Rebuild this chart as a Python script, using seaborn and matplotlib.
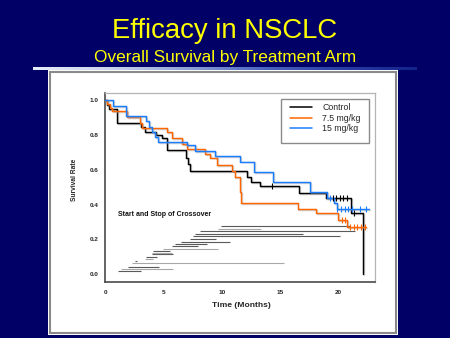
import numpy as np
import pandas as pd
import matplotlib
matplotlib.use("Agg")
import matplotlib.pyplot as plt
import matplotlib.patheffects as pe
from matplotlib.patches import Rectangle
from matplotlib.colors import LinearSegmentedColormap
import seaborn as sns

# Kaplan-Meier step curves (months, survival fraction)
control_t = [0, 0.15, 0.35, 1.0, 3.05, 3.4, 4.4, 4.85, 5.35, 6.95, 7.1, 7.25, 12.15, 12.5, 13.3, 16.65, 18.9, 21.05, 22.1]
control_s = [1.0, 0.97, 0.95, 0.87, 0.845, 0.815, 0.80, 0.78, 0.715, 0.67, 0.635, 0.59, 0.56, 0.53, 0.505, 0.465, 0.435, 0.35, 0.0]

dose75_t = [0, 0.15, 0.4, 0.6, 1.85, 3.0, 3.2, 5.28, 5.75, 6.57, 7.0, 8.57, 9.0, 9.57, 10.86, 11.1, 11.55, 11.65, 16.5, 18.1, 20.0, 20.7, 22.4]
dose75_s = [1.0, 0.975, 0.955, 0.935, 0.905, 0.87, 0.84, 0.815, 0.78, 0.75, 0.72, 0.69, 0.67, 0.625, 0.59, 0.56, 0.47, 0.41, 0.375, 0.35, 0.31, 0.27, 0.27]

dose15_t = [0, 0.7, 1.8, 3.55, 3.8, 4.0, 4.28, 4.57, 7.0, 7.7, 9.45, 11.55, 12.8, 14.4, 17.6, 19.0, 19.6, 19.9, 22.6]
dose15_s = [1.0, 0.965, 0.91, 0.88, 0.845, 0.815, 0.79, 0.76, 0.74, 0.71, 0.68, 0.647, 0.588, 0.53, 0.47, 0.435, 0.41, 0.377, 0.377]

# Censored observations
control_cens_t = [14.3, 19.5, 19.8, 20.1, 20.4, 20.7, 21.3]
control_cens_s = [0.505, 0.435, 0.435, 0.435, 0.435, 0.435, 0.35]
dose75_cens_t = [20.3, 20.55, 21.0, 21.3, 21.6, 21.9, 22.3]
dose75_cens_s = [0.31, 0.31, 0.27, 0.27, 0.27, 0.27, 0.27]
dose15_cens_t = [19.3, 19.9, 20.2, 20.55, 20.85, 21.2, 21.85, 22.4]
dose15_cens_s = [0.435, 0.377, 0.377, 0.377, 0.377, 0.377, 0.377, 0.377]

# Crossover intervals: start month, stop month, row height, shade
cross_start = [1.1, 1.4, 2.0, 2.3, 2.6, 3.4, 3.55, 4.0, 4.0, 4.15, 5.0, 5.7, 6.0, 6.55, 7.3, 7.55, 7.7, 8.1, 9.7, 9.9]
cross_stop = [3.1, 5.85, 4.6, 15.3, 2.7, 4.1, 4.45, 5.85, 5.7, 5.55, 9.7, 8.0, 8.7, 10.7, 9.55, 20.1, 17.0, 21.4, 13.4, 21.0]
cross_row = [0.018, 0.030, 0.043, 0.063, 0.075, 0.087, 0.100, 0.116, 0.124, 0.133, 0.146, 0.161, 0.173, 0.187, 0.200, 0.219, 0.232, 0.246, 0.261, 0.276]
cross_light = [0, 1, 0, 1, 0, 1, 0, 0, 1, 0, 1, 0, 0, 0, 0, 0, 0, 0, 1, 0]

arms = ["Control", "7.5 mg/kg", "15 mg/kg"]
colors = ["#000000", "#ff6600", "#1a7cff"]

x_ticks = [0, 5, 10, 15, 20]
y_ticks = [0.0, 0.2, 0.4, 0.6, 0.8, 1.0]

sns.set_style("white")
plt.rcParams["font.family"] = ["Liberation Sans", "DejaVu Sans"]

NAVY = "#000066"
W, H = 450, 338
fig = plt.figure(figsize=(W / 100, H / 100), dpi=100, facecolor=NAVY)


def fbox(x0, y0, x1, y1):
    """pixel box (top-left origin) -> figure fraction [l, b, w, h]"""
    return [x0 / W, 1 - y1 / H, (x1 - x0) / W, (y1 - y0) / H]


# Titles
fig.text(0.5, 1 - 38.3 / H, "Efficacy in NSCLC", ha="center", va="baseline",
         color="#ffff00", fontsize=19.8)
fig.text(0.5, 1 - 61.7 / H, "Overall Survival by Treatment Arm", ha="center",
         va="baseline", color="#ffff00", fontsize=12.4)

# Gradient rule under the titles
rule_ax = fig.add_axes(fbox(33, 66.8, 416, 70))
cmap = LinearSegmentedColormap.from_list(
    "rule", ["#e6ebf7", "#c9d3ec", "#8fa3d6", "#4a66bf", "#2a40a4", "#14238a"])
rule_ax.imshow(np.linspace(0, 1, 256)[None, :], aspect="auto", cmap=cmap)
rule_ax.set_axis_off()

# White panel with grey border (behind the plot axes)
l, b, w, h = fbox(47.5, 70, 398, 335)
fig.patches.append(Rectangle((l, b), w, h, transform=fig.transFigure,
                             facecolor="white", edgecolor="none", zorder=-2))
l, b, w, h = fbox(49.5, 72, 395.5, 333)
fig.patches.append(Rectangle((l, b), w, h, transform=fig.transFigure,
                             facecolor="white", edgecolor="#8a8a8a", lw=1.5, zorder=-1))

ax = fig.add_axes(fbox(105, 93, 375, 282))
ax.set_facecolor("white")

# Survival curves
frames = []
for arm, t, s in [(arms[0], control_t, control_s),
                  (arms[1], dose75_t, dose75_s),
                  (arms[2], dose15_t, dose15_s)]:
    frames.append(pd.DataFrame({"Time": t, "Survival": s, "Arm": arm}))
km = pd.concat(frames, ignore_index=True)

sns.lineplot(data=km, x="Time", y="Survival", hue="Arm", hue_order=arms,
             palette=colors, drawstyle="steps-post", estimator=None,
             legend=False, linewidth=1.05, ax=ax, zorder=3)
for line in ax.lines:
    line.set_path_effects([pe.SimpleLineShadow(offset=(0.7, -0.7),
                                               shadow_color="#999999", alpha=0.45),
                           pe.Normal()])

# Censor ticks
for (ct, cs), c in zip([(control_cens_t, control_cens_s),
                        (dose75_cens_t, dose75_cens_s),
                        (dose15_cens_t, dose15_cens_s)], colors):
    sns.scatterplot(x=ct, y=cs, marker="|", color=c, s=22, linewidth=0.8,
                    ax=ax, zorder=4)

# Crossover intervals
for x0, x1, yy, lt in zip(cross_start, cross_stop, cross_row, cross_light):
    ax.hlines(yy, x0, x1, colors="#a8a8a8" if lt else "#5a5a5a",
              linewidth=0.8, zorder=2)

ax.text(1.1, 0.343, "Start and Stop of Crossover", fontsize=5, fontweight="bold",
        ha="left", va="center", color="#111111")

ax.set_xlim(0, 23.14)
ax.set_ylim(-0.044, 1.04)
ax.set_xticks(x_ticks)
ax.set_xticklabels([str(v) for v in x_ticks], fontsize=4.6, fontweight="bold")
ax.set_yticks(y_ticks)
ax.set_yticklabels([f"{v:.1f}" for v in y_ticks], fontsize=4.6, fontweight="bold")
ax.tick_params(axis="y", direction="out", length=3, width=0.8, color="#505050", pad=1.5)
ax.tick_params(axis="x", direction="in", length=2.5, width=0.8, color="#505050", pad=5.5)

ax.set_xlabel("Time (Months)", fontsize=6.1, fontweight="bold")
ax.set_ylabel("Survival Rate", fontsize=4.8, fontweight="bold")
ax.xaxis.set_label_coords(0.504, -0.105)
ax.yaxis.set_label_coords(-0.1, 0.542)

for side in ["left", "bottom"]:
    ax.spines[side].set_color("#4a4a4a")
    ax.spines[side].set_linewidth(1.2)
for side in ["top", "right"]:
    ax.spines[side].set_color("#b4b4b4")
    ax.spines[side].set_linewidth(0.9)

# Legend box and entries
ax.add_patch(Rectangle((0.651, 0.734), 0.328, 0.234, transform=ax.transAxes,
                       facecolor="white", edgecolor="#8a8a8a", lw=1.0, zorder=5))
handles = [plt.Line2D([], [], color=c, lw=1.1) for c in colors]
leg = ax.legend(handles, arms, loc="upper left", bbox_to_anchor=(0.685, 0.945),
                frameon=False, fontsize=6.3, handlelength=2.5, handletextpad=1.2,
                labelspacing=0.15, borderpad=0, borderaxespad=0)
leg.set_zorder(6)

fig.savefig("out.png", dpi=100, facecolor=NAVY)
